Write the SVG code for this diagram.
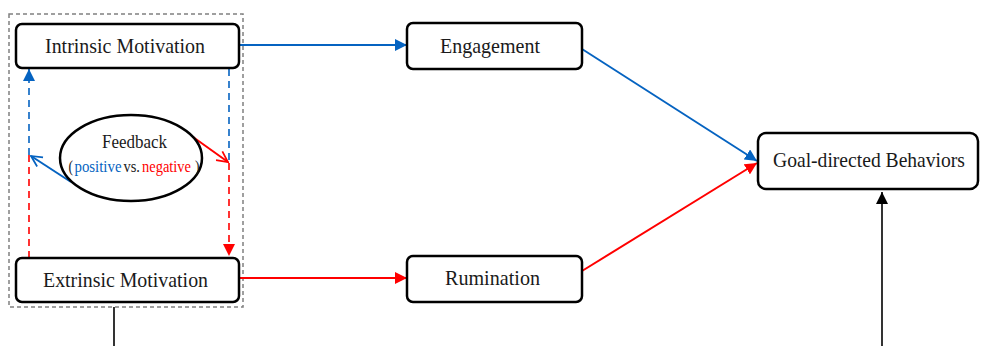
<svg xmlns="http://www.w3.org/2000/svg" width="982" height="346" viewBox="0 0 982 346">
<defs>
<style>
.box{fill:#fff;stroke:#000;stroke-width:2.5}
.lbl{font-family:"Liberation Serif","Times New Roman",serif;font-size:22px;fill:#1a1a1a;text-anchor:middle}
.fb{font-family:"Liberation Serif","Times New Roman",serif;font-size:18px;fill:#1a1a1a}
.fs{font-family:"Liberation Serif","Times New Roman",serif;font-size:16px;fill:#1a1a1a}
.pos{font-family:"Liberation Serif","Times New Roman",serif;font-size:16px;fill:#0563C1}
.neg{font-family:"Liberation Serif","Times New Roman",serif;font-size:16px;fill:#FF0000}
.blue{stroke:#0563C1;stroke-width:2;fill:none}
.red{stroke:#FF0000;stroke-width:2;fill:none}
.blk{stroke:#000;stroke-width:1.6;fill:none}
.dash{stroke-dasharray:7 5;stroke-width:1.6}
</style>
<marker id="ab" viewBox="0 0 10 10" refX="10" refY="5" markerUnits="userSpaceOnUse" markerWidth="12" markerHeight="12" orient="auto"><path d="M0,0L10,5L0,10z" fill="#0563C1"/></marker>
<marker id="ar" viewBox="0 0 10 10" refX="10" refY="5" markerUnits="userSpaceOnUse" markerWidth="12" markerHeight="12" orient="auto"><path d="M0,0L10,5L0,10z" fill="#FF0000"/></marker>
<marker id="ak" viewBox="0 0 10 10" refX="10" refY="5" markerUnits="userSpaceOnUse" markerWidth="13" markerHeight="12" orient="auto"><path d="M0,0L10,5L0,10z" fill="#000"/></marker>
<marker id="ob" viewBox="0 0 12 12" refX="11" refY="6" markerUnits="userSpaceOnUse" markerWidth="13" markerHeight="13" orient="auto"><path d="M1,1L11,6L1,11" fill="none" stroke="#0563C1" stroke-width="1.6"/></marker>
<marker id="or" viewBox="0 0 12 12" refX="11" refY="6" markerUnits="userSpaceOnUse" markerWidth="13" markerHeight="13" orient="auto"><path d="M1,1L11,6L1,11" fill="none" stroke="#FF0000" stroke-width="1.6"/></marker>
</defs>
<rect width="982" height="346" fill="#fff"/>
<g id="group-frame">
<rect x="9" y="14" width="234" height="293" fill="none" stroke="#808080" stroke-width="1.5" stroke-dasharray="4 3"/>
</g>
<g id="connectors">
<line class="blue" x1="240" y1="45" x2="407" y2="45" marker-end="url(#ab)"/>
<line class="red" x1="240" y1="278" x2="407" y2="278" marker-end="url(#ar)"/>
<line class="blue" x1="582" y1="49" x2="757" y2="161" marker-end="url(#ab)"/>
<line class="red" x1="582" y1="271" x2="757" y2="163" marker-end="url(#ar)"/>
<line class="blk" x1="882" y1="346" x2="882" y2="192" marker-end="url(#ak)"/>
<line class="blk" x1="114" y1="307" x2="114" y2="346"/>
<line class="blue dash" x1="29" y1="155" x2="29" y2="69" marker-end="url(#ab)"/>
<line class="red dash" x1="29" y1="258" x2="29" y2="155"/>
<line class="blue dash" x1="229" y1="69" x2="229" y2="163"/>
<line class="red dash" x1="229" y1="163" x2="229" y2="256" marker-end="url(#ar)"/>
<line class="blue" stroke-width="1.6" x1="71" y1="182" x2="31" y2="156" marker-end="url(#ob)"/>
<line class="red" stroke-width="1.6" x1="193" y1="137" x2="228" y2="162" marker-end="url(#or)"/>
</g>
<g id="node-intrinsic">
<rect class="box" x="16" y="24" width="223" height="44" rx="6"/>
<text class="lbl" x="125" y="53" textLength="160" lengthAdjust="spacingAndGlyphs">Intrinsic Motivation</text>
</g>
<g id="node-extrinsic">
<rect class="box" x="16" y="258" width="223" height="44" rx="6"/>
<text class="lbl" x="125.5" y="287" textLength="165" lengthAdjust="spacingAndGlyphs">Extrinsic Motivation</text>
</g>
<g id="node-feedback">
<ellipse cx="131" cy="158" rx="71" ry="43" fill="#fff" stroke="#000" stroke-width="2.5"/>
<text class="fb" x="102" y="148" textLength="65" lengthAdjust="spacingAndGlyphs">Feedback</text>
<text class="fs" x="68.5" y="172" textLength="4.5" lengthAdjust="spacingAndGlyphs">(</text>
<text class="pos" x="74.5" y="172" textLength="47" lengthAdjust="spacingAndGlyphs">positive</text>
<text class="fs" x="123.5" y="172" textLength="16.5" lengthAdjust="spacingAndGlyphs">vs.</text>
<text class="neg" x="142" y="172" textLength="49" lengthAdjust="spacingAndGlyphs">negative</text>
<text class="fs" x="195" y="172" textLength="4.5" lengthAdjust="spacingAndGlyphs">)</text>
</g>
<g id="node-engagement">
<rect class="box" x="407" y="23" width="175" height="46" rx="6"/>
<text class="lbl" x="490" y="53" textLength="100" lengthAdjust="spacingAndGlyphs">Engagement</text>
</g>
<g id="node-rumination">
<rect class="box" x="407" y="256" width="175" height="46" rx="6"/>
<text class="lbl" x="492.5" y="285" textLength="95" lengthAdjust="spacingAndGlyphs">Rumination</text>
</g>
<g id="node-goal">
<rect class="box" x="758" y="133" width="220" height="56" rx="8"/>
<text class="lbl" x="869" y="167" font-size="21" style="font-size:21px" textLength="192" lengthAdjust="spacingAndGlyphs">Goal-directed Behaviors</text>
</g>
</svg>
